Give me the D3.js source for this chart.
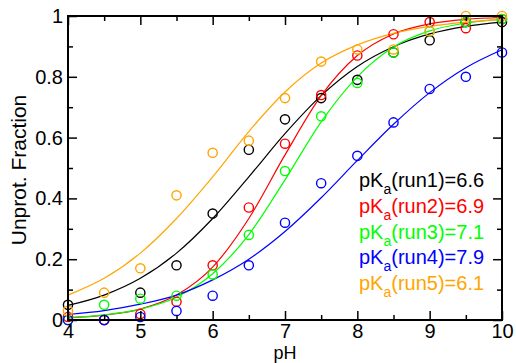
<!DOCTYPE html>
<html>
<head>
<meta charset="utf-8">
<script src="https://cdn.jsdelivr.net/npm/d3@7"></script>
<style>
body { margin: 0; background: #fff; }
text { font-family: "Liberation Sans", Arial, sans-serif; }
</style>
</head>
<body>
<svg class="chart" width="516" height="363"></svg>
<script>
// measured points (pH 4 .. 10, step 0.5)
var pH = [4, 4.5, 5, 5.5, 6, 6.5, 7, 7.5, 8, 8.5, 9, 9.5, 10];
var run1 = [0.05, 0.0, 0.09, 0.18, 0.35, 0.56, 0.66, 0.73, 0.79, 0.88, 0.92, 0.98, 0.98];
var run2 = [0.01, 0.0, 0.02, 0.06, 0.18, 0.37, 0.58, 0.74, 0.87, 0.94, 0.98, 0.96, 0.99];
var run3 = [0.0, 0.05, 0.07, 0.08, 0.15, 0.28, 0.49, 0.67, 0.78, 0.88, 0.95, 0.98, 0.99];
var run4 = [0.0, 0.0, 0.01, 0.03, 0.08, 0.18, 0.32, 0.45, 0.54, 0.65, 0.76, 0.80, 0.88];
var run5 = [0.03, 0.09, 0.17, 0.41, 0.55, 0.59, 0.73, 0.85, 0.89, 0.89, 0.95, 1.0, 1.0];

// fitted curves at the same pH values
var fit1 = [0.048, 0.082, 0.137, 0.220, 0.334, 0.471, 0.613, 0.738, 0.834, 0.899, 0.941, 0.966, 0.980];
var fit2 = [0.007, 0.016, 0.036, 0.082, 0.174, 0.334, 0.543, 0.738, 0.870, 0.941, 0.974, 0.989, 0.995];
var fit3 = [0.008, 0.017, 0.036, 0.075, 0.152, 0.281, 0.461, 0.652, 0.800, 0.898, 0.951, 0.977, 0.989];
var fit4 = [0.018, 0.031, 0.052, 0.082, 0.132, 0.200, 0.291, 0.402, 0.525, 0.644, 0.748, 0.830, 0.889];
var fit5 = [0.082, 0.137, 0.220, 0.334, 0.471, 0.620, 0.750, 0.845, 0.905, 0.943, 0.966, 0.980, 0.989];

var runNames = ["run1", "run2", "run3", "run4", "run5"];
var pKa = ["6.6", "6.9", "7.1", "7.9", "6.1"];
var colors = ["#000000", "#ff0000", "#00ff00", "#0000ff", "#ffa500"];

var xMajor = [4, 5, 6, 7, 8, 9, 10];
var xMinor = [4.5, 5.5, 6.5, 7.5, 8.5, 9.5];
var yMajor = [0, 0.2, 0.4, 0.6, 0.8, 1];
var yMinor = [0.1, 0.3, 0.5, 0.7, 0.9];

var margin = {top: 16, right: 14, bottom: 43, left: 68};
var width = 516 - margin.left - margin.right;
var height = 363 - margin.top - margin.bottom;

var points = [run1, run2, run3, run4, run5];
var fits = [fit1, fit2, fit3, fit4, fit5];

var x = d3.scaleLinear().domain([4, 10]).range([0, width]);
var y = d3.scaleLinear().domain([0, 1]).range([height, 0]);

var chart = d3.select(".chart");
var g = chart.append("g")
    .attr("transform", "translate(" + margin.left + "," + margin.top + ")");

var line = d3.line()
    .x(function(d) { return x(d[0]); })
    .y(function(d) { return y(d[1]); })
    .curve(d3.curveMonotoneX);

// curves
fits.forEach(function(f, i) {
    g.append("path")
        .datum(pH.map(function(p, j) { return [p, f[j]]; }))
        .attr("fill", "none")
        .attr("stroke", colors[i])
        .attr("stroke-width", 1.2)
        .attr("d", line);
});

// circles
points.forEach(function(vals, i) {
    g.selectAll("circle.s" + i)
        .data(pH.map(function(p, j) { return [p, vals[j]]; }))
        .enter()
        .append("circle")
        .attr("class", "s" + i)
        .attr("cx", function(d) { return x(d[0]); })
        .attr("cy", function(d) { return y(d[1]); })
        .attr("r", 4.6)
        .attr("fill", "none")
        .attr("stroke", colors[i])
        .attr("stroke-width", 1.4);
});

// axes, ticks pointing inward on all four sides
function styleAxis(sel) {
    sel.select(".domain").remove();
    sel.selectAll(".tick line").attr("stroke", "#000").attr("stroke-width", 1.5);
    sel.selectAll("text")
        .attr("fill", "#000")
        .style("font-family", "Liberation Sans, Arial, sans-serif")
        .style("font-size", "20px");
}

g.append("g")
    .attr("transform", "translate(0," + height + ")")
    .call(d3.axisBottom(x).tickValues(xMajor).tickSizeInner(-9).tickSizeOuter(0).tickPadding(4).tickFormat(d3.format("d")))
    .call(styleAxis);
g.append("g")
    .attr("transform", "translate(0," + height + ")")
    .call(d3.axisBottom(x).tickValues(xMinor).tickSizeInner(-5).tickSizeOuter(0).tickFormat(""))
    .call(styleAxis);
g.append("g")
    .call(d3.axisTop(x).tickValues(xMajor).tickSizeInner(-9).tickSizeOuter(0).tickFormat(""))
    .call(styleAxis);
g.append("g")
    .call(d3.axisTop(x).tickValues(xMinor).tickSizeInner(-5).tickSizeOuter(0).tickFormat(""))
    .call(styleAxis);

g.append("g")
    .call(d3.axisLeft(y).tickValues(yMajor).tickSizeInner(-9).tickSizeOuter(0).tickPadding(5).tickFormat(d3.format("~g")))
    .call(styleAxis);
g.append("g")
    .call(d3.axisLeft(y).tickValues(yMinor).tickSizeInner(-5).tickSizeOuter(0).tickFormat(""))
    .call(styleAxis);
g.append("g")
    .attr("transform", "translate(" + width + ",0)")
    .call(d3.axisRight(y).tickValues(yMajor).tickSizeInner(-9).tickSizeOuter(0).tickFormat(""))
    .call(styleAxis);
g.append("g")
    .attr("transform", "translate(" + width + ",0)")
    .call(d3.axisRight(y).tickValues(yMinor).tickSizeInner(-5).tickSizeOuter(0).tickFormat(""))
    .call(styleAxis);

// frame
g.append("rect")
    .attr("width", width)
    .attr("height", height)
    .attr("fill", "none")
    .attr("stroke", "#000")
    .attr("stroke-width", 2);

// axis titles
g.append("text")
    .attr("x", width / 2)
    .attr("y", height + 39)
    .attr("text-anchor", "middle")
    .style("font-size", "18px")
    .text("pH");

g.append("text")
    .attr("transform", "translate(-42," + (height / 2 + 2) + ") rotate(-90)")
    .attr("text-anchor", "middle")
    .style("font-size", "21px")
    .text("Unprot. Fraction");

// legend
var legend = g.append("g")
    .attr("transform", "translate(" + (359 - margin.left) + "," + (187 - margin.top) + ")");

runNames.forEach(function(name, i) {
    var t = legend.append("text")
        .attr("x", 0)
        .attr("y", i * 25.75)
        .attr("fill", colors[i])
        .style("font-size", "20px");
    t.append("tspan").text("pK");
    t.append("tspan").attr("dy", 7).style("font-size", "14px").text("a");
    t.append("tspan").attr("dy", -7).text("(" + name + ")=" + pKa[i]);
});
</script>
</body>
</html>
